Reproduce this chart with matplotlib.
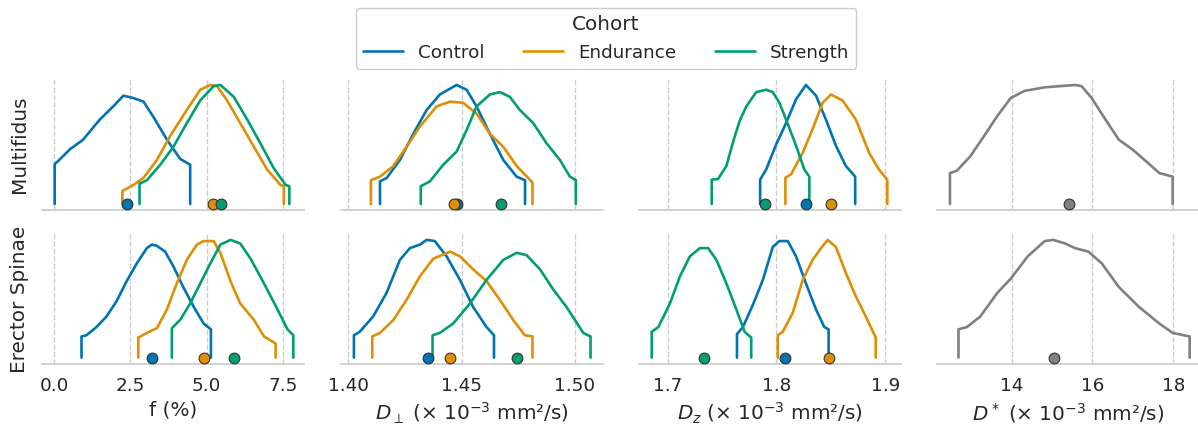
import matplotlib
matplotlib.use('Agg')
import matplotlib.pyplot as plt
import seaborn as sns
from matplotlib.lines import Line2D

sns.set_theme(style='whitegrid', context='notebook', font_scale=1.2)
plt.rcParams['font.family'] = ['DejaVu Sans']

cohorts = ['Control', 'Endurance', 'Strength']
colors = ['#0173b2', '#de8f05', '#029e73']
muscles = ['Multifidus', 'Erector Spinae']
xlabels = ['f (%)',
           r'$D_\perp$ (× 10$^{-3}$ mm²/s)',
           r'$D_z$ (× 10$^{-3}$ mm²/s)',
           r'$D^*$ (× 10$^{-3}$ mm²/s)']
xticks = [[0.0, 2.5, 5.0, 7.5], [1.40, 1.45, 1.50], [1.7, 1.8, 1.9], [14, 16, 18]]
xticklabels = [['0.0', '2.5', '5.0', '7.5'], ['1.40', '1.45', '1.50'], ['1.7', '1.8', '1.9'], ['14', '16', '18']]
xlims = [(-0.395, 8.19), (1.3968, 1.5124), (1.6737, 1.9144), (12.16, 18.63)]

# density curves (scaled so panel max = 1)
# --- Multifidus, f
mf_f_ctrl = ([0.02, 0.13, 0.52, 0.95, 1.5, 1.94, 2.27, 2.6, 2.93, 3.26, 3.7, 4.13, 4.46],
             [0.336, 0.36, 0.46, 0.54, 0.71, 0.82, 0.91, 0.89, 0.86, 0.73, 0.54, 0.38, 0.33])
mf_f_endu = ([2.24, 2.6, 2.93, 3.37, 3.8, 4.35, 4.79, 5.12, 5.34, 5.67, 6.1, 6.55, 6.98, 7.42, 7.53],
             [0.11, 0.16, 0.22, 0.37, 0.57, 0.79, 0.96, 1.0, 0.99, 0.87, 0.68, 0.48, 0.29, 0.16, 0.15])
mf_f_stre = ([2.8, 3.04, 3.48, 3.91, 4.35, 4.79, 5.23, 5.45, 5.89, 6.33, 6.76, 7.2, 7.59, 7.71],
             [0.17, 0.20, 0.33, 0.48, 0.68, 0.87, 0.99, 1.0, 0.90, 0.71, 0.51, 0.30, 0.16, 0.15])
mf_f_dots = [2.4, 5.21, 5.47]
# --- Erector Spinae, f
es_f_ctrl = ([0.9, 1.06, 1.39, 1.72, 2.05, 2.38, 2.71, 3.04, 3.2, 3.37, 3.64, 3.92, 4.25, 4.58, 4.9, 5.14],
             [0.18, 0.19, 0.26, 0.35, 0.48, 0.65, 0.80, 0.93, 0.96, 0.95, 0.90, 0.77, 0.59, 0.43, 0.29, 0.24])
es_f_endu = ([2.76, 3.04, 3.37, 3.7, 4.02, 4.35, 4.68, 4.9, 5.23, 5.45, 5.78, 6.1, 6.55, 6.88, 7.26],
             [0.17, 0.21, 0.25, 0.41, 0.63, 0.83, 0.96, 0.99, 0.99, 0.89, 0.65, 0.46, 0.32, 0.18, 0.12])
es_f_stre = ([3.86, 4.13, 4.46, 4.79, 5.12, 5.45, 5.78, 6.1, 6.44, 6.88, 7.32, 7.65, 7.84],
             [0.25, 0.32, 0.46, 0.63, 0.80, 0.96, 1.0, 0.97, 0.84, 0.63, 0.41, 0.24, 0.19])
es_f_dots = [3.22, 4.9, 5.89]
# --- Multifidus, D perp
mf_dp_ctrl = ([1.414, 1.417, 1.4228, 1.4287, 1.4346, 1.4404, 1.4478, 1.4522, 1.4566, 1.4625, 1.4684, 1.4743, 1.478],
              [0.19, 0.22, 0.37, 0.59, 0.79, 0.92, 1.0, 0.96, 0.82, 0.59, 0.37, 0.23, 0.20])
mf_dp_endu = ([1.410, 1.414, 1.4199, 1.4257, 1.4316, 1.439, 1.4449, 1.4507, 1.4566, 1.4625, 1.4684, 1.4743, 1.4813],
              [0.20, 0.23, 0.32, 0.48, 0.65, 0.82, 0.86, 0.85, 0.76, 0.59, 0.48, 0.32, 0.18])
mf_dp_stre = ([1.432, 1.436, 1.4419, 1.4478, 1.4522, 1.4566, 1.4625, 1.4669, 1.4713, 1.4757, 1.4816, 1.4875, 1.4934, 1.4978, 1.5004],
              [0.15, 0.19, 0.33, 0.44, 0.62, 0.82, 0.92, 0.94, 0.90, 0.79, 0.68, 0.51, 0.37, 0.23, 0.20])
mf_dp_dots = [1.4478, 1.4467, 1.4674]
# --- Erector Spinae, D perp
es_dp_ctrl = ([1.4025, 1.4051, 1.411, 1.4169, 1.4228, 1.4272, 1.4316, 1.4346, 1.4382, 1.4434, 1.4493, 1.4551, 1.461, 1.4643],
              [0.19, 0.22, 0.35, 0.55, 0.83, 0.93, 0.96, 1.0, 0.99, 0.86, 0.66, 0.43, 0.26, 0.19])
es_dp_endu = ([1.4106, 1.414, 1.4199, 1.4257, 1.4316, 1.4375, 1.4449, 1.4493, 1.4551, 1.461, 1.4669, 1.4728, 1.4779, 1.4813],
              [0.18, 0.21, 0.32, 0.49, 0.69, 0.84, 0.90, 0.86, 0.75, 0.65, 0.49, 0.32, 0.19, 0.18])
es_dp_stre = ([1.4372, 1.4404, 1.4463, 1.4537, 1.461, 1.4684, 1.4743, 1.4787, 1.4846, 1.4904, 1.4963, 1.5037, 1.5069],
              [0.19, 0.21, 0.29, 0.46, 0.66, 0.83, 0.89, 0.87, 0.75, 0.58, 0.43, 0.21, 0.18])
es_dp_dots = [1.435, 1.4451, 1.4743]
# --- Multifidus, Dz
mf_dz_ctrl = ([1.785, 1.7905, 1.7997, 1.8088, 1.818, 1.8271, 1.8363, 1.8454, 1.8546, 1.8637, 1.8723],
              [0.205, 0.29, 0.50, 0.68, 0.88, 1.0, 0.91, 0.71, 0.49, 0.32, 0.23])
mf_dz_endu = ([1.8082, 1.8134, 1.8241, 1.8332, 1.8424, 1.85, 1.8607, 1.8729, 1.8851, 1.8942, 1.9018],
              [0.22, 0.25, 0.43, 0.63, 0.85, 0.92, 0.87, 0.71, 0.43, 0.29, 0.205])
mf_dz_stre = ([1.7405, 1.7463, 1.754, 1.7601, 1.7662, 1.7723, 1.7814, 1.7905, 1.7966, 1.8027, 1.8088, 1.818, 1.8256, 1.8302],
              [0.205, 0.21, 0.32, 0.52, 0.70, 0.82, 0.94, 0.96, 0.94, 0.85, 0.71, 0.49, 0.29, 0.23])
mf_dz_dots = [1.8271, 1.85, 1.789]
# --- Erector Spinae, Dz
es_dz_ctrl = ([1.7637, 1.7692, 1.7784, 1.7875, 1.7966, 1.8027, 1.8104, 1.818, 1.8271, 1.8363, 1.8439, 1.8479],
              [0.20, 0.26, 0.45, 0.66, 0.94, 0.99, 0.99, 0.86, 0.63, 0.41, 0.26, 0.24])
es_dz_endu = ([1.8012, 1.8058, 1.8149, 1.8241, 1.8332, 1.8409, 1.847, 1.8546, 1.8637, 1.8729, 1.882, 1.8912],
              [0.19, 0.22, 0.38, 0.66, 0.83, 0.93, 1.0, 0.94, 0.72, 0.52, 0.35, 0.17])
es_dz_stre = ([1.6854, 1.6915, 1.7021, 1.7113, 1.7204, 1.7296, 1.7372, 1.7448, 1.754, 1.7631, 1.7707, 1.7768],
              [0.22, 0.26, 0.46, 0.69, 0.86, 0.93, 0.93, 0.83, 0.63, 0.41, 0.22, 0.17])
es_dz_dots = [1.8082, 1.8485, 1.7335]
# --- D* (all subjects)
mf_ds_all = ([12.48, 12.65, 12.98, 13.32, 13.65, 13.98, 14.32, 14.82, 15.57, 15.73, 15.98, 16.32, 16.65, 16.98, 17.32, 17.65, 17.98],
             [0.26, 0.28, 0.40, 0.57, 0.74, 0.89, 0.95, 0.98, 1.0, 0.99, 0.89, 0.71, 0.54, 0.46, 0.36, 0.26, 0.23])
mf_ds_dot = 15.43
es_ds_all = ([12.69, 12.9, 13.23, 13.65, 13.98, 14.4, 14.82, 15.03, 15.32, 15.57, 15.9, 16.23, 16.65, 17.15, 17.65, 17.98, 18.4],
             [0.24, 0.26, 0.35, 0.55, 0.67, 0.86, 0.99, 1.0, 0.97, 0.93, 0.90, 0.80, 0.60, 0.43, 0.29, 0.21, 0.18])
es_ds_dot = 15.05

panels = [
    [([mf_f_ctrl, mf_f_endu, mf_f_stre], mf_f_dots),
     ([mf_dp_ctrl, mf_dp_endu, mf_dp_stre], mf_dp_dots),
     ([mf_dz_ctrl, mf_dz_endu, mf_dz_stre], mf_dz_dots),
     ([mf_ds_all], [mf_ds_dot])],
    [([es_f_ctrl, es_f_endu, es_f_stre], es_f_dots),
     ([es_dp_ctrl, es_dp_endu, es_dp_stre], es_dp_dots),
     ([es_dz_ctrl, es_dz_endu, es_dz_stre], es_dz_dots),
     ([es_ds_all], [es_ds_dot])],
]


def draw_curve(ax, curve, color):
    xs, ys = curve
    # close the ends down to zero like a cut kde
    ax.plot([xs[0]] + list(xs) + [xs[-1]], [0] + list(ys) + [0],
            color=color, lw=1.9, solid_joinstyle='round', zorder=3)


fig = plt.figure(figsize=(11.98, 4.25), dpi=100)
W, H = 1198, 425
col_left = [42, 341, 639, 937]
col_w = 262
row_box = [(79, 210), (234, 364)]
row_ylim = [(-0.05, 1.05), (-0.054, 1.05)]

for r in range(2):
    top, bot = row_box[r]
    for c in range(4):
        ax = fig.add_axes([col_left[c] / W, 1 - bot / H, col_w / W, (bot - top) / H])
        curves, dots = panels[r][c]
        if len(curves) == 1:
            draw_curve(ax, curves[0], 'gray')
            ax.scatter(dots, [0], s=60, color='gray', edgecolor='#333333', lw=0.8, zorder=4)
        else:
            for curve, col in zip(curves, colors):
                draw_curve(ax, curve, col)
            for d, col in zip(dots, colors):
                ax.scatter([d], [0], s=60, color=col, edgecolor='#333333', lw=0.8, zorder=4)
        ax.set_xlim(xlims[c])
        ax.set_ylim(row_ylim[r])
        ax.set_xticks(xticks[c])
        ax.set_yticks([])
        ax.grid(axis='x', linestyle='--', color='#cccccc', lw=1)
        ax.grid(axis='y', visible=False)
        for s in ['left', 'right', 'top']:
            ax.spines[s].set_visible(False)
        ax.spines['bottom'].set_color('#cccccc')
        if r == 1:
            ax.set_xticklabels(xticklabels[c])
            ax.set_xlabel(xlabels[c])
        else:
            ax.set_xticklabels([])
        if c == 0:
            ax.set_ylabel(muscles[r])
            ax.yaxis.set_label_coords(-0.05, 0.5)

handles = [Line2D([], [], color=col, lw=1.9) for col in colors]
fig.legend(handles, cohorts, title='Cohort', ncol=3, loc='upper center',
           bbox_to_anchor=(606 / W, 1 + 1 / H), framealpha=1,
           handlelength=2.2, columnspacing=2.1)

fig.savefig('out.png', dpi=100)
